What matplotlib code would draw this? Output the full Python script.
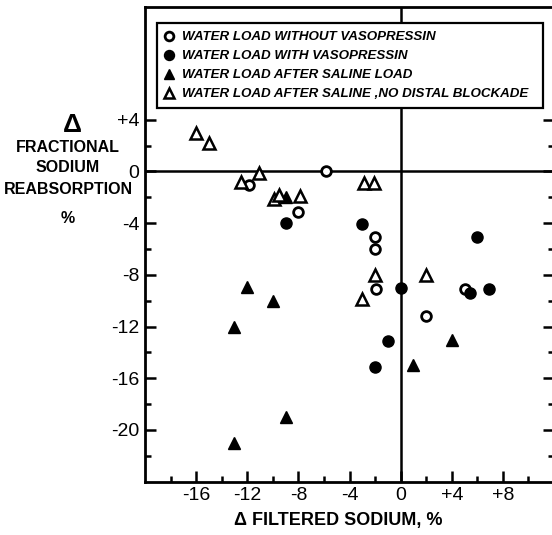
import matplotlib
matplotlib.use("Agg")
import matplotlib.pyplot as plt
from matplotlib.ticker import FixedLocator

plt.rcParams['font.family'] = ['Liberation Sans', 'DejaVu Sans']

# water load without vasopressin (open circles)
no_vaso_x = [-5.8, -11.9, -8.0, -2.0, -2.0, -1.9, 5.0, 2.0]
no_vaso_y = [0.0, -1.05, -3.1, -5.1, -6.0, -9.1, -9.1, -11.2]

# water load with vasopressin (filled circles)
vaso_x = [-9.0, -3.0, 0.0, 6.0, 5.4, 6.9, -1.0, -2.0]
vaso_y = [-4.0, -4.1, -9.0, -5.1, -9.4, -9.1, -13.1, -15.1]

# water load after saline load (filled triangles)
saline_x = [-9.0, -12.0, -10.0, -13.0, 4.0, 1.0, -9.0, -13.0]
saline_y = [-2.0, -8.9, -10.0, -12.0, -13.0, -15.0, -19.0, -21.0]

# water load after saline, no distal blockade (open triangles)
no_block_x = [-16.0, -15.0, -11.1, -12.5, -2.9, -2.1, -9.9, -9.5, -7.9, -2.0, 2.0, -3.0]
no_block_y = [3.0, 2.2, -0.1, -0.8, -0.9, -0.9, -2.1, -1.8, -1.9, -8.0, -8.0, -9.9]

labels = ["WATER LOAD WITHOUT VASOPRESSIN",
          "WATER LOAD WITH VASOPRESSIN",
          "WATER LOAD AFTER SALINE LOAD",
          "WATER LOAD AFTER SALINE ,NO DISTAL BLOCKADE"]

x_major = [-16, -12, -8, -4, 0, 4, 8]
x_minor = [-18, -14, -10, -6, -2, 2, 6, 10]
x_ticklabels = ["-16", "-12", "-8", "-4", "0", "+4", "+8"]
y_major = [4, 0, -4, -8, -12, -16, -20]
y_minor = [2, -2, -6, -10, -14, -18, -22]
y_ticklabels = ["+4", "0", "-4", "-8", "-12", "-16", "-20"]

W, H = 552, 535
fig = plt.figure(figsize=(W / 100, H / 100), dpi=100)
ax = fig.add_axes([145 / W, (H - 481.7) / H, (554 - 145) / W, (481.7 - 6.7) / H])
ax.set_xlim(-20, 12)
ax.set_ylim(-24, 12.75)

ax.axhline(0, color='black', lw=1.8, zorder=1)
ax.axvline(0, color='black', lw=1.8, zorder=1)

h1, = ax.plot(no_vaso_x, no_vaso_y, 'o', ms=7, mfc='white', mec='black', mew=2, ls='none', zorder=3)
h2, = ax.plot(vaso_x, vaso_y, 'o', ms=8, mfc='black', mec='black', ls='none', zorder=3)
h3, = ax.plot(saline_x, saline_y, '^', ms=8, mfc='black', mec='black', ls='none', zorder=3)
h4, = ax.plot(no_block_x, no_block_y, '^', ms=8, mfc='white', mec='black', mew=1.8, ls='none', zorder=3)

for side in ax.spines.values():
    side.set_linewidth(2)

ax.xaxis.set_major_locator(FixedLocator(x_major))
ax.xaxis.set_minor_locator(FixedLocator(x_minor))
ax.set_xticklabels(x_ticklabels)
ax.yaxis.set_major_locator(FixedLocator(y_major))
ax.yaxis.set_minor_locator(FixedLocator(y_minor))
ax.set_yticklabels(y_ticklabels)
ax.tick_params(which='both', direction='in', right=True, top=False, width=1.8, labelsize=14, pad=4)
ax.tick_params(which='major', length=8)
ax.tick_params(which='minor', length=4.5)

leg = ax.legend([h1, h2, h3, h4], labels, loc='upper left',
                bbox_to_anchor=((157 - 145) / 409, 0.5, (543 - 157) / 409, (481.7 - 23) / 475 - 0.5),
                mode='expand', borderaxespad=0, numpoints=1, handlelength=0.6,
                handletextpad=0.65, borderpad=0.6, labelspacing=0.5, fancybox=False,
                framealpha=1, edgecolor='black', markerscale=0.9,
                prop={'weight': 'bold', 'style': 'italic', 'size': 9.6})
leg.get_frame().set_linewidth(1.6)

# y axis title, stacked like the original
fig.text(72 / W, 1 - 125 / H, "\u0394", fontsize=19, fontweight='bold', ha='center', va='center')
fig.text(68 / W, 1 - 147 / H, "FRACTIONAL", fontsize=11.5, fontweight='bold', ha='center', va='center')
fig.text(68 / W, 1 - 168 / H, "SODIUM", fontsize=11.5, fontweight='bold', ha='center', va='center')
fig.text(68 / W, 1 - 189 / H, "REABSORPTION", fontsize=11.5, fontweight='bold', ha='center', va='center')
fig.text(68 / W, 1 - 218.5 / H, "%", fontsize=11.5, fontweight='bold', ha='center', va='center')

fig.text(338 / W, 1 - 520 / H, "\u0394 FILTERED SODIUM, %", fontsize=13, fontweight='bold',
         ha='center', va='center')

fig.savefig('out.png', dpi=100)
